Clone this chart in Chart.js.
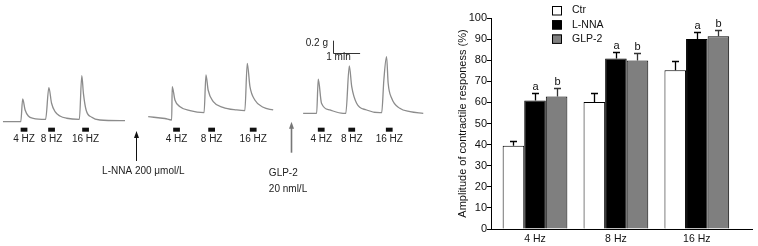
<!DOCTYPE html>
<html>
<head>
<meta charset="utf-8">
<script src="https://cdn.jsdelivr.net/npm/chart.js@4/dist/chart.umd.min.js"></script>
<style>
  html, body { margin: 0; padding: 0; background: #fff; }
  #wrap { position: relative; width: 758px; height: 246px; overflow: hidden; }
  #traces { position: absolute; left: 0; top: 0; }
  #bars { position: absolute; left: 440px; top: 0; }
</style>
</head>
<body>
<div id="wrap">
  <canvas id="traces" width="440" height="246"></canvas>
  <canvas id="bars" width="318" height="246"></canvas>
</div>
<script>
// ── Bar chart data ────────────────────────────────────────────────────────
const categories = ['4 Hz', '8 Hz', '16 Hz']
const groupNames = ['Ctr', 'L-NNA', 'GLP-2']
const ctrMean  = [39.4, 60.2, 75.2]
const ctrSem   = [2.1, 4.2, 4.2]
const lnnaMean = [60.9, 80.8, 90.0]
const lnnaSem  = [3.5, 3.1, 3.4]
const glpMean  = [62.8, 79.8, 91.3]
const glpSem   = [4.0, 3.6, 2.8]
const ctrSig   = ['', '', '']
const lnnaSig  = ['a', 'a', 'a']
const glpSig   = ['b', 'b', 'b']

// ── Recording traces: time (min), force (g, from first baseline) ────────
const trace1Min = [0.11, 0.77, 0.84, 0.93, 1.05, 1.23, 1.69, 1.81, 1.91, 2.04, 2.22, 2.47, 2.94, 3.03, 3.09, 3.19, 3.40, 3.70, 4.63]
const trace1G   = [0.005, 0.005, 0.383, 0.2, 0.1, 0.062, 0.045, 0.572, 0.312, 0.172, 0.1, 0.062, 0.045, 0.772, 0.478, 0.2, 0.078, 0.033, 0.022]
const trace2Min = [5.49, 6.11, 6.36, 6.38, 6.48, 6.67, 7.04, 7.56, 7.63, 7.71, 7.90, 8.26, 8.77, 9.07, 9.16, 9.26, 9.44, 9.75, 10.12]
const trace2G   = [0.088, 0.058, 0.033, 0.588, 0.367, 0.255, 0.188, 0.155, 0.783, 0.533, 0.338, 0.245, 0.2, 0.188, 0.978, 0.588, 0.367, 0.245, 0.2]
const trace3Min = [11.23, 11.73, 11.79, 11.91, 12.22, 12.71, 12.81, 12.94, 13.03, 13.21, 13.58, 14.07, 14.14, 14.22, 14.32, 14.38, 14.51, 14.81, 15.19, 15.68]
const trace3G   = [0.145, 0.145, 0.712, 0.312, 0.2, 0.145, 0.145, 0.933, 0.588, 0.312, 0.2, 0.155, 0.155, 0.7, 1.088, 0.645, 0.395, 0.228, 0.172, 0.145]

const stimMin    = [0.89, 1.91, 3.17, 6.54, 7.84, 9.38, 11.90, 13.03, 14.42]
const stimLabels = ['4 HZ', '8 HZ', '16 HZ', '4 HZ', '8 HZ', '16 HZ', '4 HZ', '8 HZ', '16 HZ']

const drugMin    = [5.04, 10.77]
const drugLines  = [['L-NNA 200 μmol/L'], ['GLP-2', '20 nml/L']]

const FONT = "'Liberation Sans', Arial, sans-serif"
Chart.defaults.font.family = FONT
Chart.defaults.color = '#000'

// ── Traces chart ────────────────────────────────────────────────────────
const zip = (xs, ys) => xs.map((v, i) => ({ x: v, y: ys[i] }))
const traceStyle = {
  borderColor: '#8c8c8c', borderWidth: 1.3, pointRadius: 0,
  cubicInterpolationMode: 'monotone', fill: false
}

function arrow(ctx, px, tipY, tailY, color, width) {
  ctx.strokeStyle = color
  ctx.fillStyle = color
  ctx.lineWidth = width
  ctx.beginPath()
  ctx.moveTo(px, tailY)
  ctx.lineTo(px, tipY + 5)
  ctx.stroke()
  ctx.beginPath()
  ctx.moveTo(px, tipY)
  ctx.lineTo(px - 2.5, tipY + 7)
  ctx.lineTo(px + 2.5, tipY + 7)
  ctx.closePath()
  ctx.fill()
}

const traceMarks = {
  id: 'traceMarks',
  afterDatasetsDraw(chart) {
    const { ctx, scales: { x, y } } = chart
    ctx.save()
    ctx.font = `10px ${FONT}`
    ctx.textAlign = 'center'
    ctx.textBaseline = 'middle'
    // stimulus bars and labels
    stimMin.forEach((t, i) => {
      const l = x.getPixelForValue(t - 0.125), r = x.getPixelForValue(t + 0.125)
      const top = y.getPixelForValue(-0.095), bot = y.getPixelForValue(-0.162)
      ctx.fillStyle = '#111'
      ctx.fillRect(l, top, r - l, bot - top)
      ctx.fillStyle = '#222'
      ctx.fillText(stimLabels[i], x.getPixelForValue(t), y.getPixelForValue(-0.283))
    })
    // drug arrows
    arrow(ctx, Math.round(x.getPixelForValue(drugMin[0])) + 0.5, y.getPixelForValue(-0.15), y.getPixelForValue(-0.65), '#111', 1)
    arrow(ctx, Math.round(x.getPixelForValue(drugMin[1])) + 0.5, y.getPixelForValue(0.005), y.getPixelForValue(-0.512), '#777', 1.6)
    ctx.fillStyle = '#222'
    ctx.textAlign = 'center'
    ctx.fillText(drugLines[0][0], x.getPixelForValue(5.31), y.getPixelForValue(-0.817))
    ctx.textAlign = 'left'
    ctx.fillText(drugLines[1][0], x.getPixelForValue(9.96), y.getPixelForValue(-0.855))
    ctx.fillText(drugLines[1][1], x.getPixelForValue(9.96), y.getPixelForValue(-1.122))
    // scale bar: 0.2 g / 1 min
    const sx = Math.round(x.getPixelForValue(12.34)) + 0.5
    const sy = Math.round(y.getPixelForValue(1.155)) + 0.5
    ctx.strokeStyle = '#333'
    ctx.lineWidth = 1
    ctx.beginPath()
    ctx.moveTo(sx, y.getPixelForValue(1.355))
    ctx.lineTo(sx, sy)
    ctx.lineTo(x.getPixelForValue(13.34), sy)
    ctx.stroke()
    ctx.textAlign = 'right'
    ctx.fillText('0.2 g', x.getPixelForValue(12.15), y.getPixelForValue(1.317))
    ctx.textAlign = 'center'
    ctx.fillText('1 min', x.getPixelForValue(12.54), y.getPixelForValue(1.078))
    ctx.restore()
  }
}

new Chart(document.getElementById('traces'), {
  type: 'line',
  data: {
    datasets: [
      { data: zip(trace1Min, trace1G), ...traceStyle },
      { data: zip(trace2Min, trace2G), ...traceStyle },
      { data: zip(trace3Min, trace3G), ...traceStyle }
    ]
  },
  options: {
    responsive: false,
    animation: false,
    layout: { padding: 0 },
    plugins: { legend: { display: false }, tooltip: { enabled: false } },
    scales: {
      x: { type: 'linear', display: false, min: 0, max: 16.3 },
      y: { type: 'linear', display: false, min: -2.067, max: 2.033 }
    }
  },
  plugins: [traceMarks]
})

// ── Bar chart ───────────────────────────────────────────────────────────
const semByGroup = [ctrSem, lnnaSem, glpSem]
const sigByGroup = [ctrSig, lnnaSig, glpSig]
const errColors  = ['#000', '#000', '#333']

const errorBars = {
  id: 'errorBars',
  afterDatasetsDraw(chart) {
    const { ctx, scales: { y } } = chart
    ctx.save()
    ctx.font = `11px ${FONT}`
    ctx.textAlign = 'center'
    ctx.textBaseline = 'alphabetic'
    chart.data.datasets.forEach((ds, i) => {
      chart.getDatasetMeta(i).data.forEach((bar, j) => {
        const top = Math.round(y.getPixelForValue(ds.data[j] + semByGroup[i][j])) + 0.5
        const bx = Math.round(bar.x) + 0.5
        ctx.strokeStyle = errColors[i]
        ctx.lineWidth = 1.3
        ctx.beginPath()
        ctx.moveTo(bx, bar.y)
        ctx.lineTo(bx, top)
        ctx.moveTo(bx - 3.5, top)
        ctx.lineTo(bx + 3.5, top)
        ctx.stroke()
        if (sigByGroup[i][j]) {
          ctx.fillStyle = '#111'
          ctx.fillText(sigByGroup[i][j], bx, top - 4)
        }
      })
    })
    ctx.restore()
  }
}

const boxLegend = {
  id: 'boxLegend',
  afterDraw(chart) {
    const { ctx } = chart
    ctx.save()
    ctx.font = `10.5px ${FONT}`
    ctx.textAlign = 'left'
    ctx.textBaseline = 'middle'
    chart.data.datasets.forEach((ds, i) => {
      const top = 6 + i * 14.2
      ctx.fillStyle = ds.backgroundColor
      ctx.fillRect(112, top, 9.5, 9)
      ctx.strokeStyle = '#000'
      ctx.lineWidth = 1
      ctx.strokeRect(112.5, top + 0.5, 9, 8.5)
      ctx.fillStyle = '#111'
      ctx.fillText(ds.label, 132, top + 4.5)
    })
    ctx.restore()
  }
}

const barStyle = { borderColor: '#000', borderWidth: 1, barPercentage: 1, categoryPercentage: 0.8 }

new Chart(document.getElementById('bars'), {
  type: 'bar',
  data: {
    labels: categories.map((_, i) => i),
    datasets: [
      { label: groupNames[0], data: ctrMean,  backgroundColor: '#ffffff', ...barStyle },
      { label: groupNames[1], data: lnnaMean, backgroundColor: '#000000', ...barStyle },
      { label: groupNames[2], data: glpMean,  backgroundColor: '#7f7f7f', ...barStyle }
    ]
  },
  options: {
    responsive: false,
    animation: false,
    layout: { padding: { top: 18, right: 6, left: 0, bottom: 0 } },
    plugins: { legend: { display: false }, tooltip: { enabled: false } },
    scales: {
      x: {
        type: 'linear',
        min: -0.544,
        max: 2.682,
        bounds: 'data',
        offset: false,
        afterBuildTicks: s => { s.ticks = categories.map((_, i) => ({ value: i })) },
        afterFit: s => { s.height = 17 },
        grid: { display: false, drawTicks: false, offset: false },
        border: { display: true, color: '#000', width: 1 },
        ticks: {
          padding: 4,
          color: '#111',
          font: { size: 10.5 },
          callback: v => categories[v] ?? ''
        }
      },
      y: {
        min: 0,
        max: 100,
        afterFit: s => { s.width = 51 },
        grid: { drawOnChartArea: false, drawTicks: true, tickLength: 4, color: '#000' },
        border: { display: true, color: '#000', width: 1 },
        ticks: { stepSize: 10, padding: 0, color: '#111', font: { size: 11 } },
        title: {
          display: true,
          text: 'Amplitude of contractile responess (%)',
          color: '#111',
          font: { size: 11 },
          padding: { top: 16, bottom: 0 }
        }
      }
    }
  },
  plugins: [errorBars, boxLegend]
})
</script>
</body>
</html>
